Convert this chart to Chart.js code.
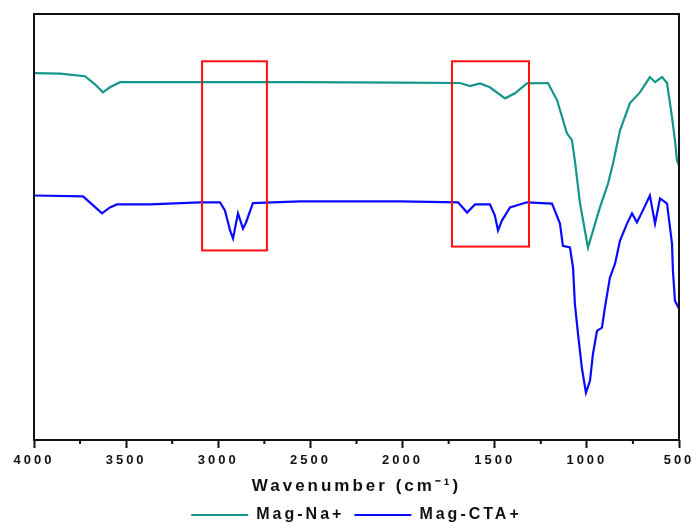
<!DOCTYPE html>
<html>
<head>
<meta charset="utf-8">
<script src="https://cdn.jsdelivr.net/npm/chart.js@4.4.0/dist/chart.umd.min.js"></script>
<style>
  html,body{margin:0;padding:0;background:#fff;}
  #wrap{width:696px;height:523px;}
</style>
</head>
<body>
<div id="wrap"><canvas id="chart"></canvas></div>
<script>
/* FTIR spectra, arbitrary transmittance units */
const wnNa = [4000,3859,3723,3669,3626,3588,3533,3099,2557,2014,1689,1634,1580,1526,1444,1390,1325,1211,1162,1108,1081,1065,1037,994,929,885,858,820,766,712,658,630,592,565,538,522,511,500];
const tNa  = [86.1,86.0,85.4,83.5,81.6,82.8,84.0,84.0,84.0,83.9,83.8,83.1,83.7,82.8,80.2,81.4,83.7,83.8,79.8,72.0,70.4,65.6,55.5,45.2,54.6,60.2,64.9,72.7,79.1,81.6,85.2,84.0,85.2,83.8,75.8,70.4,65.6,64.5];

const wnCTA = [4000,3734,3685,3631,3588,3550,3371,3099,2991,2964,2936,2920,2893,2866,2850,2812,2557,2014,1699,1650,1607,1526,1499,1482,1461,1417,1325,1189,1146,1130,1092,1075,1065,1048,1027,1005,983,967,945,918,902,875,847,820,782,755,728,696,658,630,603,565,538,533,522,500];
const tCTA  = [57.4,57.2,55.3,53.2,54.6,55.3,55.3,55.8,55.8,53.9,49.2,47.3,53.2,49.6,51.0,55.6,56.0,56.0,55.8,53.4,55.3,55.3,52.7,49.2,51.5,54.6,55.8,55.5,50.8,45.6,45.2,40.5,32.0,24.9,16.9,11.1,13.9,20.2,25.6,26.4,31.1,38.1,41.4,46.8,50.8,53.2,51.1,53.9,57.4,50.8,56.7,55.5,46.1,39.8,32.7,30.8];

const xTicks = [4000,3500,3000,2500,2000,1500,1000,500];

/* highlighted regions (red boxes) */
const boxWnFrom = [3088,1732];
const boxWnTo   = [2736,1314];
const boxTTop   = [88.9,88.9];
const boxTBot   = [44.5,45.4];

const pts=(xs,ys)=>xs.map((x,i)=>({x:x,y:ys[i]}));
const FONT="Liberation Sans, Arial, sans-serif";

/* spacing, frame, minor ticks, red boxes */
const extras={
  id:"extras",
  beforeUpdate(chart){ chart.ctx.letterSpacing="3px"; },
  beforeDraw(chart){ chart.ctx.letterSpacing="3px"; },
  afterDatasetsDraw(chart){
    const ctx=chart.ctx, a=chart.chartArea, xs=chart.scales.x, ys=chart.scales.y;
    ctx.save();
    ctx.strokeStyle="#ff1010";
    ctx.lineWidth=2;
    boxWnFrom.forEach((w,i)=>{
      const x1=xs.getPixelForValue(w), x2=xs.getPixelForValue(boxWnTo[i]);
      const y1=ys.getPixelForValue(boxTTop[i]), y2=ys.getPixelForValue(boxTBot[i]);
      ctx.strokeRect(x1,y1,x2-x1,y2-y1);
    });
    ctx.strokeStyle="#111";
    ctx.lineWidth=2;
    ctx.strokeRect(a.left,a.top,a.right-a.left,a.bottom-a.top);
    ctx.beginPath();
    for(let w=3750;w>500;w-=500){
      const x=xs.getPixelForValue(w);
      ctx.moveTo(x,a.bottom); ctx.lineTo(x,a.bottom+4);
    }
    ctx.stroke();
    ctx.restore();
  }
};

new Chart(document.getElementById("chart"),{
  type:"line",
  data:{
    datasets:[
      {label:"Mag-Na+",data:pts(wnNa,tNa),borderColor:"#15968a",backgroundColor:"#15968a",borderWidth:2.2,pointRadius:0,tension:0},
      {label:"Mag-CTA+",data:pts(wnCTA,tCTA),borderColor:"#0a0aff",backgroundColor:"#0a0aff",borderWidth:2.2,pointRadius:0,tension:0}
    ]
  },
  options:{
    responsive:true,
    maintainAspectRatio:false,
    animation:false,
    layout:{padding:{left:34,right:17,top:14,bottom:-10}},
    plugins:{
      legend:{
        position:"bottom",
        labels:{
          usePointStyle:true,
          pointStyle:"line",
          pointStyleWidth:57,
          padding:10,
          color:"#111",
          font:{family:FONT,size:16,weight:"bold"}
        }
      },
      tooltip:{enabled:false}
    },
    scales:{
      x:{
        type:"linear",
        reverse:true,
        min:500,max:4000,
        afterBuildTicks:s=>{ s.ticks=xTicks.map(v=>({value:v})); },
        afterFit:s=>{ s.paddingLeft=0; s.paddingRight=0; },
        ticks:{
          color:"#111",
          padding:5,
          maxRotation:0,
          callback:v=>String(v),
          font:{family:FONT,size:13,weight:"bold"}
        },
        grid:{display:true,drawOnChartArea:false,tickLength:8,tickColor:"#111",tickWidth:2},
        border:{display:false},
        title:{
          display:true,
          text:"Wavenumber (cm\u207B\u00B9)",
          color:"#111",
          padding:{top:3,bottom:0},
          font:{family:FONT,size:17,weight:"bold"}
        }
      },
      y:{display:false,min:0,max:100}
    }
  },
  plugins:[extras]
});
</script>
</body>
</html>
